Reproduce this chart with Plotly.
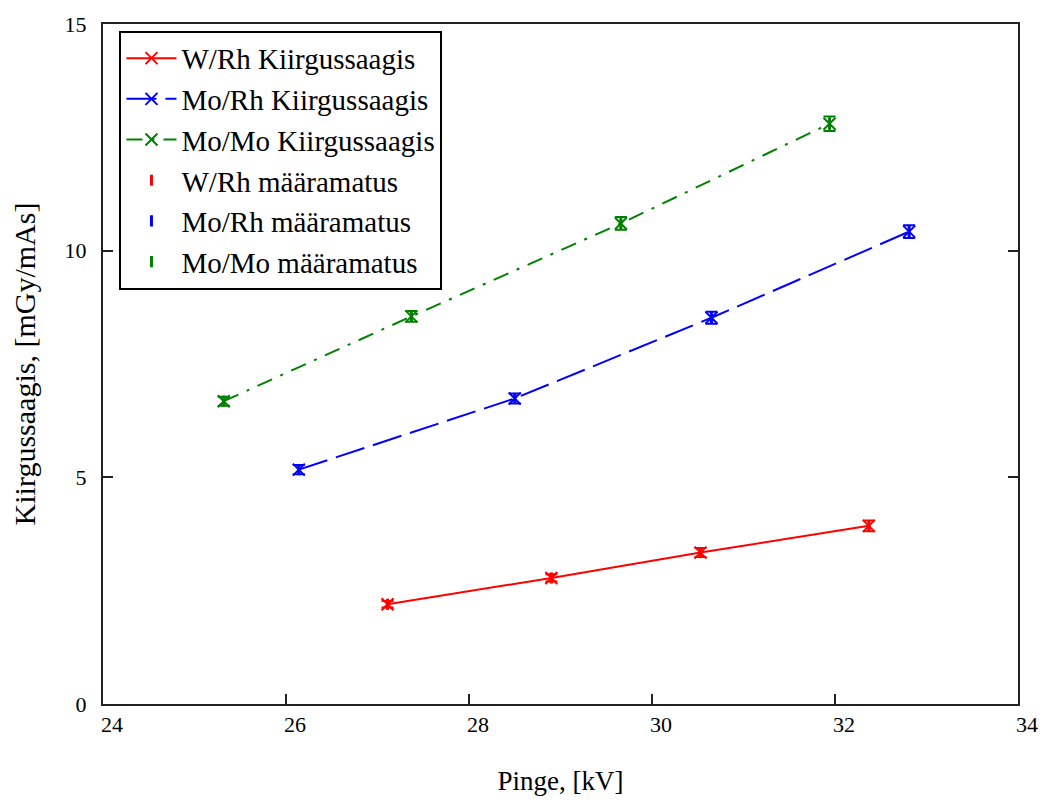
import plotly.graph_objects as go

# Tube voltage (kV) and output (mGy/mAs) per anode/filter combination
wrh_kv = [27.11, 28.90, 30.53, 32.37]
wrh_out = [2.20, 2.78, 3.34, 3.93]
wrh_err = [0.07, 0.08, 0.10, 0.12]

morh_kv = [26.14, 28.50, 30.65, 32.81]
morh_out = [5.17, 6.74, 8.52, 10.42]
morh_err = [0.10, 0.11, 0.13, 0.14]

momo_kv = [25.32, 27.37, 29.66, 31.94]
momo_out = [6.68, 8.55, 10.60, 12.80]
momo_err = [0.10, 0.12, 0.14, 0.16]

series = [
    ("W/Rh", wrh_kv, wrh_out, wrh_err, "#ff0000", "solid"),
    ("Mo/Rh", morh_kv, morh_out, morh_err, "#0000ff", "30px,9px"),
    ("Mo/Mo", momo_kv, momo_out, momo_err, "#008000", "16px,9px,3px,9px"),
]

x_ticks = [24, 26, 28, 30, 32, 34]
y_ticks = [0, 5, 10, 15]

serif = "Liberation Serif"

fig = go.Figure()

for name, kv, out, err, color, dash in series:
    fig.add_trace(go.Scatter(
        x=kv, y=out, mode="lines+markers",
        name=f"{name} Kiirgussaagis",
        line=dict(color=color, width=2, dash=dash),
        marker=dict(symbol="x-thin", size=12, line=dict(color=color, width=2)),
    ))

for name, kv, out, err, color, dash in series:
    fig.add_trace(go.Scatter(
        x=kv, y=out, mode="markers",
        name=f"{name} määramatus",
        marker=dict(symbol="line-ns-open", size=8, color=color,
                    line=dict(color=color, width=3)),
        error_y=dict(type="data", array=err, visible=True,
                     color=color, thickness=2, width=6),
    ))

fig.update_layout(
    width=1050, height=807,
    margin=dict(l=103, r=25, t=15, b=103),
    paper_bgcolor="white", plot_bgcolor="white",
    font=dict(family=serif, size=20, color="black"),
    legend=dict(
        x=0.018, y=0.99, xanchor="left", yanchor="top",
        bgcolor="white", bordercolor="black", borderwidth=2,
        font=dict(family=serif, size=29, color="black"),
        tracegroupgap=0, itemwidth=50,
    ),
    showlegend=True,
)

fig.update_xaxes(
    range=[24, 34], tickvals=x_ticks, ticktext=[str(v) for v in x_ticks],
    ticks="inside", ticklen=10, tickwidth=2, tickcolor="#222",
    showline=True, linecolor="#222", linewidth=2, mirror=True,
    showgrid=False, zeroline=False,
    tickfont=dict(family=serif, size=22),
    ticklabelshift=9,
    title=dict(text="Pinge, [kV]", font=dict(family=serif, size=27), standoff=35),
)
fig.update_yaxes(
    range=[0, 15], tickvals=y_ticks, ticktext=[str(v) for v in y_ticks],
    ticks="inside", ticklen=10, tickwidth=2, tickcolor="#222",
    showline=True, linecolor="#222", linewidth=2, mirror="ticks",
    showgrid=False, zeroline=False,
    tickfont=dict(family=serif, size=22),
    ticklabelstandoff=10,
    title=dict(text="Kiirgussaagis, [mGy/mAs]", font=dict(family=serif, size=30), standoff=20),
)

fig.write_html("out.html")
